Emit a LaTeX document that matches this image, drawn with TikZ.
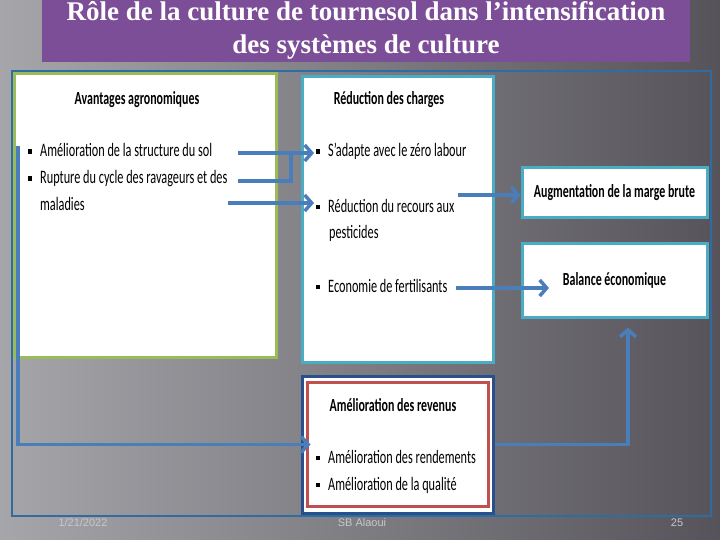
\documentclass[tikz,border=0pt]{standalone}
\usepackage{fontspec}
\setmainfont{Liberation Serif}
\newfontfamily\slidefont[FakeStretch=0.645]{Carlito}
\newfontfamily\footfont{Liberation Sans}
\usepackage{tikz}
\usetikzlibrary{calc, arrows.meta, positioning}

\definecolor{titlepurple}{RGB}{124,78,152}
\definecolor{frameblue}{RGB}{46,108,164}
\definecolor{arrowblue}{RGB}{74,126,187}
\definecolor{agrogreen}{RGB}{155,187,89}
\definecolor{boxteal}{RGB}{75,172,198}
\definecolor{revred}{RGB}{192,80,77}
\definecolor{revblue}{RGB}{40,80,140}
\definecolor{bgleft}{RGB}{165,165,170}
\definecolor{bgright}{RGB}{86,84,90}
\definecolor{footgray}{RGB}{200,200,204}

\newcommand{\sqb}{\rule[3pt]{4pt}{4.5pt}\hspace{8pt}}

\tikzstyle{titlebox} = [rectangle, fill=titlepurple, text=white, minimum width=648pt, minimum height=60pt, align=center, font=\bfseries\fontsize{27}{33}\selectfont]
\tikzstyle{greenbox} = [rectangle, draw=agrogreen, line width=3pt, fill=white]
\tikzstyle{tealbox}  = [rectangle, draw=boxteal, line width=3pt, fill=white, font=\slidefont\bfseries\fontsize{18.5}{22}\selectfont]
\tikzstyle{heading}  = [inner sep=0pt, font=\slidefont\bfseries\fontsize{18.5}{22}\selectfont]
\tikzstyle{item}     = [anchor=west, inner sep=0pt, text height=12pt, text depth=4pt, font=\slidefont\fontsize{19}{22}\selectfont]
\tikzstyle{arrow}    = [line width=3.5pt, draw=arrowblue, -{Straight Barb[length=7pt, width=16pt]}]
\tikzstyle{link}     = [line width=3.5pt, draw=arrowblue]
\tikzstyle{frame}    = [line width=2.5pt, draw=frameblue]
\tikzstyle{foot}     = [text=footgray, font=\footfont\fontsize{11}{13}\selectfont]

\begin{document}
\begin{tikzpicture}[x=1pt, y=-1pt]
    \useasboundingbox (0,0) rectangle (720,540);
    \shade [left color=bgleft, right color=bgright] (0,0) rectangle (720,540);

    % titre
    \node (title) [titlebox] at (366,30) {Rôle de la culture de tournesol dans l’intensification\\des systèmes de culture};

    % cadres
    \node (agro)    [greenbox, minimum width=262pt, minimum height=283pt] at (145,215.5) {};
    \node (charges) [tealbox,  minimum width=191pt, minimum height=285pt] at (397.5,219.5) {};
    \node (marge)   [tealbox,  minimum width=185pt, minimum height=50pt]  at (614.5,193) {Augmentation de la marge brute};
    \node (balance) [tealbox,  minimum width=185pt, minimum height=74pt]  at (614.5,280) {Balance économique};
    \node (revenus) [rectangle, draw=revblue, line width=3pt, fill=white, minimum width=191pt, minimum height=137pt] at (397.5,444.5) {};
    \node (revin)   [rectangle, draw=revred, line width=3pt, minimum width=181pt, minimum height=124pt] at (revenus.center) {};

    % avantages agronomiques
    \node (agrot) [heading] at (137,100) {Avantages agronomiques};
    \node (sol)   [item] at (28,153) {\sqb Amélioration de la structure du sol};
    \node (rupt)  [item] at (28,180) {\sqb Rupture du cycle des ravageurs et des};
    \node (mal)   [item] at (40,207) {maladies};

    % reduction des charges
    \node (chart)  [heading] at (389,100) {Réduction des charges};
    \node (adapte) [item] at (316,153) {\sqb S’adapte avec le zéro labour};
    \node (pest)   [item] at (316,208) {\sqb Réduction du recours aux};
    \node (pest2)  [item] at (329,234) {pesticides};
    \node (econ)   [item] at (316,288) {\sqb Economie de fertilisants};

    % revenus
    \node (revt)  [heading] at (393,405) {Amélioration des revenus};
    \node (rend)  [item] at (316,459) {\sqb Amélioration des rendements};
    \node (qual)  [item] at (316,486) {\sqb Amélioration de la qualité};

    \draw [frame] (12,71) rectangle (711,516);

    % liaisons
    \coordinate (a1) at (238,153);
    \coordinate (a2) at (238,181);
    \coordinate (j1) at (291,153);
    \coordinate (a3) at (228,203);
    \coordinate (a4) at (458,195);
    \coordinate (a5) at (456,288);
    \coordinate (e5) at (549,288);
    \coordinate (a6) at (18,146);

    \draw [link]  (a2) -| (j1);
    \draw [arrow, shorten >=2pt] (a1) -- (adapte.west);
    \draw [arrow, shorten >=2pt] (a3) -- (a3 -| pest.west);
    \draw [arrow] (a4) -- (a4 -| marge.west);
    \draw [arrow] (a5) -- (e5);
    \draw [arrow] (a6) |- ([xshift=10pt]revenus.west);
    \draw [arrow, shorten >=9pt] (revenus.east) -| ([xshift=13.5pt]balance.south);

    % pied de page
    \node (date)   [foot] at (83,523)  {1/21/2022};
    \node (auteur) [foot] at (362,523) {SB Alaoui};
    \node (page)   [foot] at (677,523) {25};
\end{tikzpicture}
\end{document}
